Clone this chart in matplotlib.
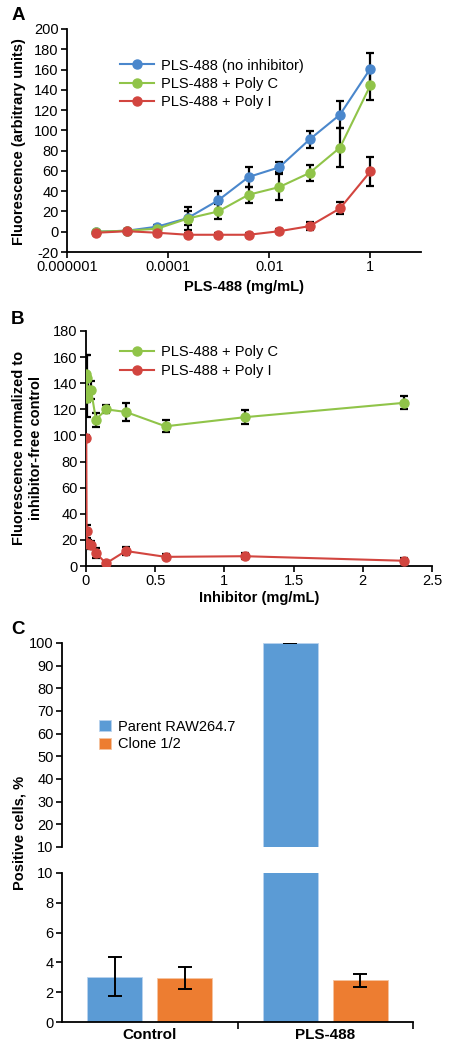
import matplotlib
matplotlib.use("Agg")
import matplotlib.pyplot as plt
import numpy as np

plt.rcParams['font.family'] = ['Liberation Sans', 'DejaVu Sans']

# ---------------- Data ----------------
# Panel A
a_conc = [3.8e-6, 1.53e-5, 6.1e-5, 2.44e-4, 9.77e-4, 3.9e-3, 1.5625e-2, 6.25e-2, 0.25, 1.0]
a_none = [0, 1, 5, 13.5, 31, 54, 63.5, 91, 115.5, 161]
a_none_err = [1, 1, 2, 7, 9.5, 9.5, 5, 8, 13, 15]
a_polyc = [0, 1, 3, 13, 20, 36.5, 44, 58, 83, 144.5]
a_polyc_err = [1, 1, 2, 11, 7, 8, 13, 8, 19, 15]
a_polyi = [-1, 0.5, -1, -3, -3, -3, 0.5, 5.5, 23, 59.5]
a_polyi_err = [2, 2, 2, 2, 2, 2, 2, 4, 6, 14]
a_labels = ['PLS-488 (no inhibitor)', 'PLS-488 + Poly C', 'PLS-488 + Poly I']

# Panel B
b_conc = [0.002, 0.0045, 0.009, 0.018, 0.036, 0.072, 0.144, 0.2875, 0.575, 1.15, 2.3]
b_polyc = [147, 144, 129, 135, 135, 112, 120, 118, 107, 114, 125]
b_polyc_err = [15, 18, 15, 7, 7, 5.5, 3, 7, 4.7, 5.5, 5]
b_polyi = [98, 26.5, 18, 17, 16, 10, 2, 11.5, 7, 7.5, 4]
b_polyi_err = [2, 5, 3, 3, 3, 4, 2, 3, 2, 2.5, 2]
b_labels = ['PLS-488 + Poly C', 'PLS-488 + Poly I']

# Panel C
c_groups = ['Control', 'PLS-488']
c_parent = [3.05, 100]
c_parent_err = [1.3, 0.1]
c_clone = [2.95, 2.8]
c_clone_err = [0.72, 0.45]
c_labels = ['Parent RAW264.7', 'Clone 1/2']

BLUE = '#4a87cc'
GREEN = '#90c449'
RED = '#d2453f'
BAR_BLUE = '#5b9bd5'
BAR_ORANGE = '#ed7d31'

W, H = 451, 1050
fig = plt.figure(figsize=(W / 100, H / 100), dpi=100)


def ax_rect(l, t, r, b):
    return [l / W, 1 - b / H, (r - l) / W, (b - t) / H]


def fig_xy(px, py):
    return (px / W, 1 - py / H)


TICK_FS = 10.5
LBL_FS = 10.5
LEG_FS = 10.5

# ---------------- Panel A ----------------
axA = fig.add_axes(ax_rect(67, 29, 421, 252))
series = [(a_none, a_none_err, BLUE), (a_polyc, a_polyc_err, GREEN), (a_polyi, a_polyi_err, RED)]
for (vals, errs, col), lab in zip(series, a_labels):
    axA.errorbar(a_conc, vals, yerr=errs, fmt='none', ecolor='black', elinewidth=1.6,
                 capsize=3, capthick=1.6, zorder=2)
for (vals, errs, col), lab in zip(series, a_labels):
    axA.plot(a_conc, vals, '-o', color=col, lw=1.5, ms=6.5, label=lab, zorder=3)
axA.set_xscale('log')
axA.set_xlim(1e-6, 10)
axA.set_ylim(-20, 200)
axA.set_xticks([1e-6, 1e-4, 1e-2, 1])
axA.set_xticklabels(['0.000001', '0.0001', '0.01', '1'])
axA.xaxis.set_minor_locator(matplotlib.ticker.NullLocator())
axA.set_yticks(np.arange(-20, 201, 20))
axA.set_yticklabels(['-20'] + [str(v) for v in range(0, 201, 20)])
axA.set_xlabel('PLS-488 (mg/mL)', fontsize=LBL_FS, fontweight='bold')
axA.xaxis.set_label_coords(*fig_xy(244, 287), transform=fig.transFigure)
axA.xaxis.label.set_va('center')
axA.set_ylabel('Fluorescence (arbitrary units)', fontsize=LBL_FS, fontweight='bold')
axA.yaxis.set_label_coords(*fig_xy(19, 142), transform=fig.transFigure)
axA.yaxis.label.set_va('center')
axA.legend(loc='upper left', bbox_to_anchor=(0.13, 0.90), frameon=False, fontsize=LEG_FS,
           handlelength=2.3, handletextpad=0.5, labelspacing=0.3, borderpad=0)

# ---------------- Panel B ----------------
axB = fig.add_axes(ax_rect(86, 331, 432, 566))
bseries = [(b_polyc, b_polyc_err, GREEN), (b_polyi, b_polyi_err, RED)]
for vals, errs, col in bseries:
    axB.errorbar(b_conc, vals, yerr=errs, fmt='none', ecolor='black', elinewidth=1.6,
                 capsize=3, capthick=1.6, zorder=2)
for (vals, errs, col), lab in zip(bseries, b_labels):
    axB.plot(b_conc, vals, '-o', color=col, lw=1.5, ms=6.5, label=lab, zorder=3)
axB.set_xlim(0, 2.5)
axB.set_ylim(0, 180)
axB.set_xticks([0, 0.5, 1, 1.5, 2, 2.5])
axB.set_xticklabels(['0', '0.5', '1', '1.5', '2', '2.5'])
axB.set_yticks(np.arange(0, 181, 20))
axB.set_xlabel('Inhibitor (mg/mL)', fontsize=LBL_FS, fontweight='bold')
axB.xaxis.set_label_coords(*fig_xy(259, 598), transform=fig.transFigure)
axB.xaxis.label.set_va('center')
axB.set_ylabel('Fluorescence normalized to\ninhibitor-free control', fontsize=LBL_FS,
               fontweight='bold', linespacing=1.25)
axB.yaxis.set_label_coords(*fig_xy(27.5, 448), transform=fig.transFigure)
axB.yaxis.label.set_va('center')
axB.legend(loc='upper left', bbox_to_anchor=(0.078, 0.97), frameon=False, fontsize=LEG_FS,
           handlelength=2.3, handletextpad=0.5, labelspacing=0.3, borderpad=0)

for ax in (axA, axB):
    for s in ('top', 'right'):
        ax.spines[s].set_visible(False)
    for s in ('left', 'bottom'):
        ax.spines[s].set_linewidth(1.3)
    ax.tick_params(axis='both', labelsize=TICK_FS, length=4, width=1.2, pad=2)

# ---------------- Panel C ----------------
axCt = fig.add_axes(ax_rect(62, 643, 413, 847))
axCb = fig.add_axes(ax_rect(62, 873, 413, 1022))
x = np.arange(len(c_groups))
bw = 0.315
off = 0.2
for ax in (axCt, axCb):
    ax.bar(x - off, c_parent, bw, color=BAR_BLUE, edgecolor='#b9d3ee', linewidth=0.6,
           label=c_labels[0], zorder=2)
    ax.bar(x + off, c_clone, bw, color=BAR_ORANGE, edgecolor='#f6c4a0', linewidth=0.6,
           label=c_labels[1], zorder=2)
    ax.errorbar(x - off, c_parent, yerr=c_parent_err, fmt='none', ecolor='black',
                elinewidth=1.4, capsize=5, capthick=1.4, zorder=3)
    ax.errorbar(x + off, c_clone, yerr=c_clone_err, fmt='none', ecolor='black',
                elinewidth=1.4, capsize=5, capthick=1.4, zorder=3)
    ax.set_xlim(-0.5, 1.5)
    for s in ('top', 'right'):
        ax.spines[s].set_visible(False)
    ax.spines['left'].set_linewidth(1.3)
    ax.spines['bottom'].set_linewidth(1.3)
    ax.tick_params(axis='y', labelsize=TICK_FS, length=4, width=1.2, pad=2)

axCt.set_ylim(10, 100)
axCt.set_yticks(np.arange(10, 101, 10))
axCt.spines['bottom'].set_visible(False)
axCt.tick_params(axis='x', bottom=False, labelbottom=False)

axCb.set_ylim(0, 10)
axCb.set_yticks(np.arange(0, 11, 2))
axCb.set_xticks([0.5, 1.5])
axCb.set_xticks(x, minor=True)
axCb.set_xticklabels(['', ''])
axCb.set_xticklabels(c_groups, minor=True, fontsize=11, fontweight='bold')
axCb.tick_params(axis='x', which='major', length=5, width=1.2)
axCb.tick_params(axis='x', which='minor', length=0, pad=4)

axCt.legend(loc='upper left', bbox_to_anchor=(0.085, 0.66), frameon=False, fontsize=LEG_FS,
            handlelength=0.8, handleheight=0.8, handletextpad=0.5, labelspacing=0.25, borderpad=0)

fig.text(*fig_xy(20, 833), 'Positive cells, %', rotation=90, fontsize=LBL_FS,
         fontweight='bold', ha='center', va='center')

# Panel letters
for lbl, (px, py) in zip(['A', 'B', 'C'], [(18, 15), (18, 320), (18, 629)]):
    fig.text(*fig_xy(px, py), lbl, fontsize=13.5, fontweight='bold', ha='center', va='center')

fig.savefig('out.png', dpi=100)
